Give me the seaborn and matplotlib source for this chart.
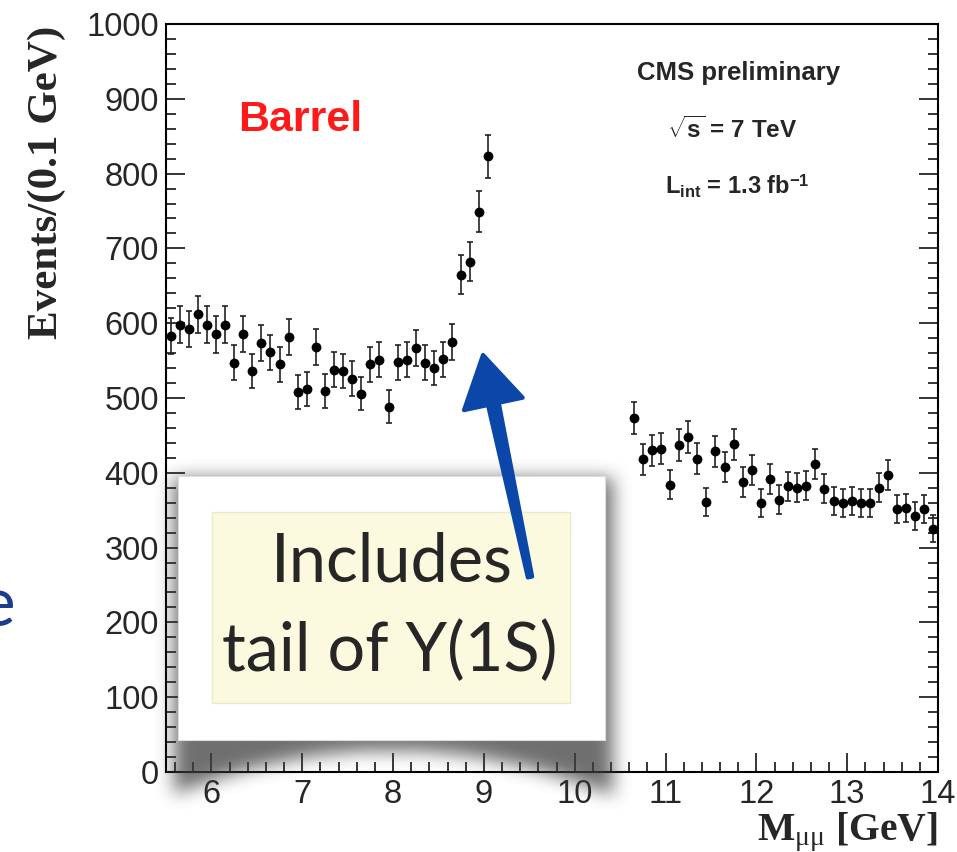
import numpy as np
import pandas as pd
import matplotlib
matplotlib.use("Agg")
import matplotlib.pyplot as plt
import seaborn as sns
from matplotlib.patches import Rectangle, Polygon
from matplotlib.transforms import IdentityTransform
from matplotlib.ticker import MultipleLocator

# ---------------- data ----------------
mass_low = [5.55, 5.65, 5.75, 5.85, 5.95, 6.05, 6.15, 6.25, 6.35, 6.45,
            6.55, 6.65, 6.75, 6.85, 6.95, 7.05, 7.15, 7.25, 7.35, 7.45,
            7.55, 7.65, 7.75, 7.85, 7.95, 8.05, 8.15, 8.25, 8.35, 8.45,
            8.55, 8.65, 8.75, 8.85, 8.95, 9.05]
events_low = [583, 598, 592, 612, 598, 585, 598, 547, 586, 536,
              574, 561, 545, 581, 508, 512, 568, 509, 538, 536,
              526, 506, 545, 551, 488, 548, 551, 567, 547, 540,
              552, 575, 665, 682, 749, 823]
mass_high = [10.65, 10.75, 10.85, 10.95, 11.05, 11.15, 11.25, 11.35, 11.45, 11.55,
             11.65, 11.75, 11.85, 11.95, 12.05, 12.15, 12.25, 12.35, 12.45, 12.55,
             12.65, 12.75, 12.85, 12.95, 13.05, 13.15, 13.25, 13.35, 13.45, 13.55,
             13.65, 13.75, 13.85, 13.95]
events_high = [473, 418, 430, 432, 384, 437, 448, 419, 361, 429,
               408, 438, 388, 404, 360, 392, 364, 382, 380, 383,
               412, 379, 362, 360, 362, 360, 360, 380, 397, 352,
               353, 342, 352, 325]
x_ticks = [6, 7, 8, 9, 10, 11, 12, 13, 14]
y_ticks = [0, 100, 200, 300, 400, 500, 600, 700, 800, 900, 1000]

# ---------------- style ----------------
sns.set_theme(style="ticks")
plt.rcParams.update({
    "font.family": ["Liberation Sans", "DejaVu Sans"],
    "mathtext.fontset": "custom",
    "mathtext.rm": "Liberation Serif",
    "mathtext.it": "Liberation Serif:italic",
    "mathtext.bf": "Liberation Sans:bold",
    "mathtext.sf": "Liberation Sans:bold",
    "axes.linewidth": 1.5,
    "axes.edgecolor": "black",
})

W, H = 957, 852
fig = plt.figure(figsize=(W / 100, H / 100), dpi=100)
fig.patch.set_facecolor("white")
ax = fig.add_axes([166 / W, 1 - 772 / H, (938 - 166) / W, (772 - 24) / H])
ax.set_facecolor("white")

df = pd.DataFrame({"mass": mass_low + mass_high,
                   "events": events_low + events_high})
df["err"] = np.sqrt(df["events"])

ax.errorbar(df["mass"], df["events"], yerr=df["err"], fmt="none",
            ecolor="#222222", elinewidth=1.2, capsize=2.2, capthick=1.2, zorder=2)
sns.scatterplot(data=df, x="mass", y="events", ax=ax, color="black",
                s=50, linewidth=0, zorder=3, legend=False)

ax.set_xlim(5.5, 14)
ax.set_ylim(0, 1000)
ax.set_xticks(x_ticks)
ax.set_yticks(y_ticks)
ax.set_xticklabels([str(t) for t in x_ticks])
ax.set_yticklabels([str(t) for t in y_ticks])
ax.xaxis.set_minor_locator(MultipleLocator(0.2))
ax.yaxis.set_minor_locator(MultipleLocator(20))
ax.tick_params(which="both", direction="in", left=True, right=True,
               bottom=True, top=False, labelright=False, labeltop=False,
               color="black", width=1.1)
ax.tick_params(which="major", length=14, labelsize=23.5, pad=5)
ax.tick_params(which="minor", length=7)
ax.set_xlabel("")
ax.set_ylabel("")
for s in ax.spines.values():
    s.set_linewidth(1.5)
    s.set_visible(True)

def fx(x):
    return x / W

def fy(y):
    return 1 - y / H

# axis titles
fig.text(fx(938), fy(840), r"M$_{\mathrm{\mu\mu}}$ [GeV]", ha="right", va="baseline",
         fontfamily="Liberation Serif", fontweight="bold", fontsize=28.5)
fig.text(fx(47), fy(26), "Events/(0.1 GeV)", rotation=90, ha="center", va="top",
         fontfamily="Liberation Serif", fontweight="bold", fontsize=31)

# in-plot texts
fig.text(fx(300), fy(120), "Barrel", color="#ff1a1a", ha="center", va="center",
         fontweight="bold", fontsize=31)
fig.text(fx(739), fy(73), "CMS preliminary", ha="center", va="center",
         fontweight="bold", fontsize=18.5)
fig.text(fx(732), fy(130), r"$\sqrt{\mathsf{s}}$ = 7 TeV", ha="center", va="center",
         fontweight="bold", fontsize=17.5)
fig.text(fx(737), fy(186), r"L$_{\mathsf{int}}$ = 1.3 fb$^{\mathsf{-1}}$", ha="center",
         va="center", fontweight="bold", fontsize=17)

# ---------------- call-out box with shadow ----------------
x0, y0, sw, sh = 130, 430, 530, 410
yy, xx = np.mgrid[0:sh, 0:sw]
gx = xx + x0
gy = yy + y0
t = (gx - 391.5) / 213.5
bottom = 750 + 42 * t ** 2
mask = ((gx >= 174) & (gx <= 612) & (gy >= 478) & (gy <= bottom)).astype(float)

def blur(a, r):
    k = np.ones(2 * r + 1) / (2 * r + 1)
    a = np.apply_along_axis(lambda m: np.convolve(m, k, mode="same"), 0, a)
    a = np.apply_along_axis(lambda m: np.convolve(m, k, mode="same"), 1, a)
    return a

for _ in range(3):
    mask = blur(mask, 8)
rgba = np.zeros((sh, sw, 4))
rgba[..., 0:3] = 0.25
rgba[..., 3] = np.clip(mask * 0.75, 0, 1)
fig.figimage(rgba, xo=x0, yo=H - (y0 + sh), origin="upper", zorder=10)

ident = IdentityTransform()

def rect(xl, yt, xr, yb, **kw):
    return Rectangle((xl, H - yb), xr - xl, yb - yt, transform=ident, **kw)

fig.add_artist(rect(178, 476, 605, 740, facecolor="white", edgecolor="#dddddd",
                    linewidth=0.8, zorder=11))
fig.add_artist(rect(212, 512, 570, 703, facecolor="#fbfadf", edgecolor="#ecebc8",
                    linewidth=1.0, zorder=12))
fig.text(fx(392), fy(563), "Includes", ha="center", va="center",
         fontfamily=["Lato", "DejaVu Sans"], fontsize=48, zorder=13)
fig.text(fx(390), fy(652), "tail of \u03a5(1S)", ha="center", va="center",
         fontfamily=["Lato", "DejaVu Sans"], fontsize=48, zorder=13)

# blue arrow
tail = np.array([530.0, 577.0])
tip = np.array([483.0, 355.0])
u = (tip - tail) / np.linalg.norm(tip - tail)
n = np.array([-u[1], u[0]])
base = tip - u * 50
pts = [tip, base + n * 30, base + n * 5.5, tail + n * 2.2,
       tail - n * 2.2, base - n * 5.5, base - n * 30]
pts = [(p[0], H - p[1]) for p in pts]
fig.add_artist(Polygon(pts, closed=True, transform=ident, facecolor="#0a47a8",
                       edgecolor="#0a47a8", linewidth=3, joinstyle="round", zorder=14))

# clipped slide text at the left edge (as in the reference)
fig.text(fx(15), fy(626), "e", ha="right", va="baseline", color="#1c3d8f",
         fontfamily=["Lato", "DejaVu Sans"], fontsize=50)

fig.savefig("out.png", dpi=100)
